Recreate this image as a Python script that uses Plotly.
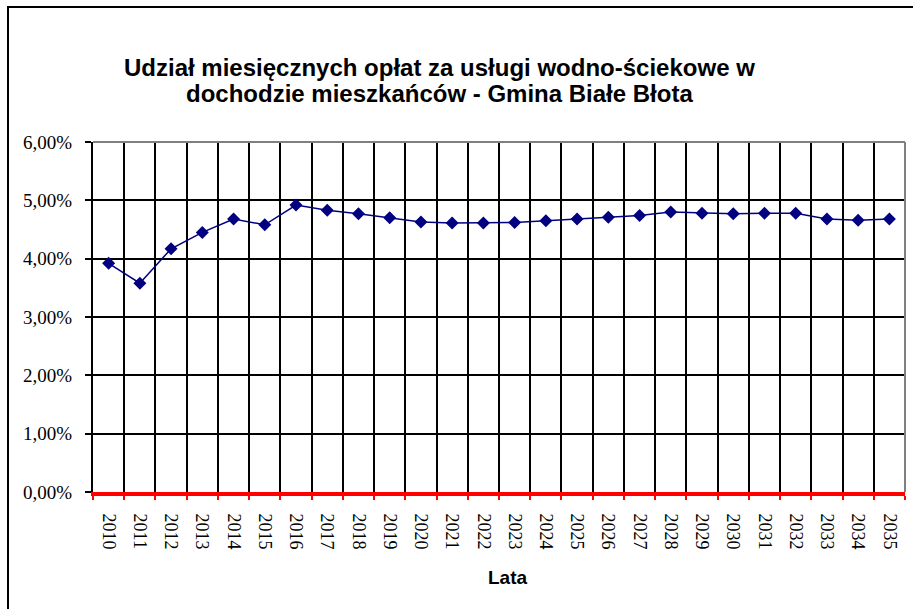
import plotly.graph_objects as go

years = [str(y) for y in range(2010, 2036)]
share = [3.92, 3.58, 4.17, 4.45, 4.68, 4.58, 4.92, 4.83, 4.77, 4.70, 4.63, 4.61,
         4.61, 4.62, 4.65, 4.68, 4.71, 4.74, 4.80, 4.78, 4.77, 4.78, 4.78, 4.68,
         4.66, 4.68]
share_frac = [v / 100 for v in share]

title_lines = ["Udział miesięcznych opłat za usługi wodno-ściekowe w",
               "dochodzie mieszkańców - Gmina Białe Błota"]
x_title = "Lata"

fig = go.Figure()
fig.add_trace(go.Scatter(
    x=years, y=share_frac, mode="lines+markers",
    line=dict(color="#000080", width=1.5),
    marker=dict(symbol="diamond", size=10, color="#000080"),
    showlegend=False, hoverinfo="x+y",
))

W, H = 913, 609
L, R, T, B = 93, 8, 142, 117
pw, ph = W - L - R, H - T - B

def px2paper_x(px):
    return (px - L) / pw

def px2paper_y(py):
    return (H - B - py) / ph

serif = "Liberation Serif, Times New Roman, serif"
sans = "Liberation Sans, Arial, sans-serif"

annotations = [dict(
    text=x_title, xref="paper", yref="paper",
    x=px2paper_x(508), y=px2paper_y(577), xanchor="center", yanchor="middle",
    showarrow=False,
    font=dict(family=sans, size=19, color="black", weight="bold"),
)]
for line_text, cy in zip(title_lines, [68, 94]):
    annotations.append(dict(
        text=line_text, xref="paper", yref="paper",
        x=px2paper_x(439), y=px2paper_y(cy), xanchor="center", yanchor="middle",
        showarrow=False,
        font=dict(family=sans, size=24, color="black", weight="bold"),
    ))

fig.update_layout(
    width=W, height=H,
    margin=dict(l=L, r=R, t=T, b=B, pad=0),
    paper_bgcolor="white", plot_bgcolor="white",
    separators=",.",
    xaxis=dict(
        type="category", tickson="boundaries",
        range=[-0.5, len(years) - 0.5],
        showgrid=True, gridcolor="black", gridwidth=1.5,
        showline=True, linecolor="red", linewidth=4,
        ticks="outside", tickcolor="red", ticklen=4, tickwidth=2,
        tickangle=90, tickfont=dict(family=serif, size=18, color="black"),
        ticklabelstandoff=14,
        fixedrange=True,
    ),
    yaxis=dict(
        range=[0, 0.06], dtick=0.01, tickformat=".2%",
        showgrid=True, gridcolor="black", gridwidth=1.5,
        showline=True, linecolor="black", linewidth=2,
        ticks="outside", tickcolor="black", ticklen=6, tickwidth=1.5,
        zeroline=False,
        tickfont=dict(family=serif, size=19, color="black"),
        ticklabelstandoff=9,
        fixedrange=True,
    ),
    annotations=annotations,
    shapes=[
        dict(type="line", xref="paper", yref="paper", x0=0, x1=1, y0=1, y1=1,
             line=dict(color="#808080", width=2), layer="above"),
        dict(type="line", xref="paper", yref="paper", x0=1, x1=1, y0=0, y1=1,
             line=dict(color="#808080", width=2), layer="above"),
        dict(type="path", xref="paper", yref="paper",
             path=f"M {px2paper_x(8)},{px2paper_y(615)} L {px2paper_x(8)},{px2paper_y(7)} L {px2paper_x(920)},{px2paper_y(7)}",
             line=dict(color="black", width=2), layer="above"),
    ],
)

fig.write_html("out.html", config={"displayModeBar": False},
               post_script="document.body.style.margin='0';document.body.style.overflow='hidden';")
